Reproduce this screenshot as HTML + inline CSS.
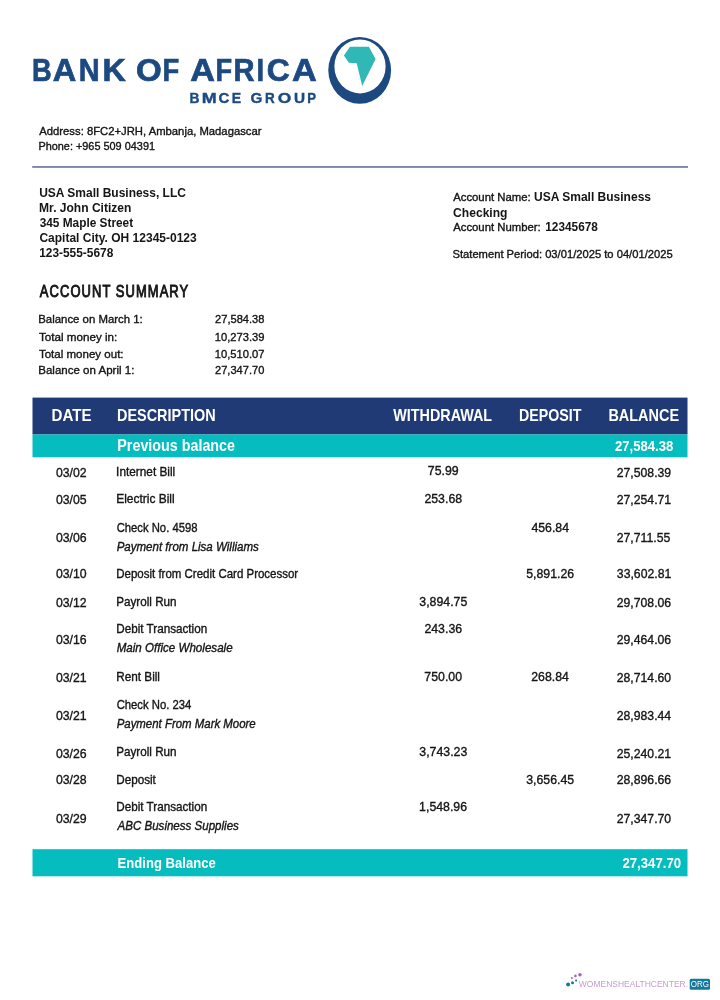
<!DOCTYPE html>
<html><head><meta charset="utf-8"><title>Bank of Africa Statement</title>
<style>
html,body{margin:0;padding:0;background:#fff;}
body{width:720px;height:1000px;overflow:hidden;position:relative;font-family:"Liberation Sans",sans-serif;}
svg{position:absolute;left:0;top:0;display:block;}
svg text{font-family:"Liberation Sans",sans-serif;}
</style></head>
<body>
<svg width="720" height="1000" viewBox="0 0 720 1000">
<rect x="0" y="0" width="720" height="1000" fill="#ffffff"/>
<!-- logo -->
<ellipse cx="359.7" cy="70.3" rx="31.4" ry="33.4" fill="#1c4a80"/>
<ellipse cx="360" cy="66.4" rx="25.6" ry="27" fill="#ffffff"/>
<polygon points="350,46.7 368.9,46.7 375.6,58.9 362.2,86.1 356.7,63.3 348.9,62.8 343.9,55.6" fill="#2fb8b5"/>
<!-- rule -->
<rect x="32.2" y="166.1" width="655.8" height="1.7" fill="#6b7a9a"/>
<!-- table bands -->
<rect x="32.5" y="397.6" width="655" height="36.9" fill="#1f3a75"/>
<rect x="32.5" y="434.5" width="655" height="22.8" fill="#05bcbe"/>
<rect x="32.5" y="849.2" width="655" height="27.1" fill="#05bcbe"/>
<!-- watermark -->
<circle cx="568.1" cy="984.4" r="2" fill="#157a94"/>
<circle cx="572.5" cy="982.7" r="1.5" fill="#157a94"/>
<circle cx="576.1" cy="980.5" r="1.1" fill="#157a94"/>
<circle cx="571.9" cy="978" r="1" fill="#a865bd"/>
<circle cx="575.4" cy="975.9" r="1.3" fill="#a865bd"/>
<circle cx="580" cy="974.8" r="1.8" fill="#a865bd"/>
<rect x="689.7" y="978.8" width="20.3" height="10.9" rx="1.5" fill="#16789a"/>
<defs><filter id="sf" x="-5%" y="-5%" width="110%" height="110%"><feGaussianBlur stdDeviation="0.3"/></filter></defs>
<g filter="url(#sf)">
<text x="32.01" y="80.90" font-size="30.8" font-weight="bold" font-style="normal" fill="#1c4a80" textLength="19.65" lengthAdjust="spacingAndGlyphs"  stroke="#1c4a80" stroke-width="0.7">B</text>
<text x="52.84" y="80.90" font-size="30.8" font-weight="bold" font-style="normal" fill="#1c4a80" textLength="23.50" lengthAdjust="spacingAndGlyphs"  stroke="#1c4a80" stroke-width="0.7">A</text>
<text x="78.70" y="80.90" font-size="30.8" font-weight="bold" font-style="normal" fill="#1c4a80" textLength="20.90" lengthAdjust="spacingAndGlyphs"  stroke="#1c4a80" stroke-width="0.7">N</text>
<text x="102.47" y="80.90" font-size="30.8" font-weight="bold" font-style="normal" fill="#1c4a80" textLength="23.29" lengthAdjust="spacingAndGlyphs"  stroke="#1c4a80" stroke-width="0.7">K</text>
<text x="135.93" y="80.90" font-size="30.8" font-weight="bold" font-style="normal" fill="#1c4a80" textLength="25.74" lengthAdjust="spacingAndGlyphs"  stroke="#1c4a80" stroke-width="0.7">O</text>
<text x="162.50" y="80.90" font-size="30.8" font-weight="bold" font-style="normal" fill="#1c4a80" textLength="16.73" lengthAdjust="spacingAndGlyphs"  stroke="#1c4a80" stroke-width="0.7">F</text>
<text x="190.30" y="80.90" font-size="30.8" font-weight="bold" font-style="normal" fill="#1c4a80" textLength="24.68" lengthAdjust="spacingAndGlyphs"  stroke="#1c4a80" stroke-width="0.7">A</text>
<text x="215.41" y="80.90" font-size="30.8" font-weight="bold" font-style="normal" fill="#1c4a80" textLength="16.61" lengthAdjust="spacingAndGlyphs"  stroke="#1c4a80" stroke-width="0.7">F</text>
<text x="233.59" y="80.90" font-size="30.8" font-weight="bold" font-style="normal" fill="#1c4a80" textLength="21.01" lengthAdjust="spacingAndGlyphs"  stroke="#1c4a80" stroke-width="0.7">R</text>
<text x="256.60" y="80.90" font-size="30.8" font-weight="bold" font-style="normal" fill="#1c4a80" textLength="7.60" lengthAdjust="spacingAndGlyphs"  stroke="#1c4a80" stroke-width="0.7">I</text>
<text x="266.87" y="80.90" font-size="30.8" font-weight="bold" font-style="normal" fill="#1c4a80" textLength="23.04" lengthAdjust="spacingAndGlyphs"  stroke="#1c4a80" stroke-width="0.7">C</text>
<text x="291.99" y="80.90" font-size="30.8" font-weight="bold" font-style="normal" fill="#1c4a80" textLength="24.79" lengthAdjust="spacingAndGlyphs"  stroke="#1c4a80" stroke-width="0.7">A</text>
<text x="189.57" y="103.35" font-size="15.2" font-weight="bold" font-style="normal" fill="#1c4a80" textLength="9.94" lengthAdjust="spacingAndGlyphs"  stroke="#1c4a80" stroke-width="0.4">B</text>
<text x="201.69" y="103.35" font-size="15.2" font-weight="bold" font-style="normal" fill="#1c4a80" textLength="14.93" lengthAdjust="spacingAndGlyphs"  stroke="#1c4a80" stroke-width="0.4">M</text>
<text x="218.60" y="103.35" font-size="15.2" font-weight="bold" font-style="normal" fill="#1c4a80" textLength="10.81" lengthAdjust="spacingAndGlyphs"  stroke="#1c4a80" stroke-width="0.4">C</text>
<text x="231.85" y="103.35" font-size="15.2" font-weight="bold" font-style="normal" fill="#1c4a80" textLength="9.41" lengthAdjust="spacingAndGlyphs"  stroke="#1c4a80" stroke-width="0.4">E</text>
<text x="250.59" y="103.35" font-size="15.2" font-weight="bold" font-style="normal" fill="#1c4a80" textLength="11.87" lengthAdjust="spacingAndGlyphs"  stroke="#1c4a80" stroke-width="0.4">G</text>
<text x="265.09" y="103.35" font-size="15.2" font-weight="bold" font-style="normal" fill="#1c4a80" textLength="9.71" lengthAdjust="spacingAndGlyphs"  stroke="#1c4a80" stroke-width="0.4">R</text>
<text x="277.80" y="103.35" font-size="15.2" font-weight="bold" font-style="normal" fill="#1c4a80" textLength="13.54" lengthAdjust="spacingAndGlyphs"  stroke="#1c4a80" stroke-width="0.4">O</text>
<text x="294.08" y="103.35" font-size="15.2" font-weight="bold" font-style="normal" fill="#1c4a80" textLength="11.07" lengthAdjust="spacingAndGlyphs"  stroke="#1c4a80" stroke-width="0.4">U</text>
<text x="307.32" y="103.35" font-size="15.2" font-weight="bold" font-style="normal" fill="#1c4a80" textLength="8.74" lengthAdjust="spacingAndGlyphs"  stroke="#1c4a80" stroke-width="0.4">P</text>
<text x="39.27" y="135.00" font-size="11.3" font-weight="normal" font-style="normal" fill="#141414" textLength="222.22" lengthAdjust="spacingAndGlyphs"  stroke="#141414" stroke-width="0.35">Address: 8FC2+JRH, Ambanja, Madagascar</text>
<text x="38.40" y="149.50" font-size="11.3" font-weight="normal" font-style="normal" fill="#141414" textLength="116.62" lengthAdjust="spacingAndGlyphs"  stroke="#141414" stroke-width="0.35">Phone: +965 509 04391</text>
<text x="39.18" y="197.30" font-size="12.2" font-weight="bold" font-style="normal" fill="#141414" textLength="146.74" lengthAdjust="spacingAndGlyphs" >USA Small Business, LLC</text>
<text x="39.09" y="211.90" font-size="12.2" font-weight="bold" font-style="normal" fill="#141414" textLength="92.33" lengthAdjust="spacingAndGlyphs" >Mr. John Citizen</text>
<text x="39.63" y="226.90" font-size="12.2" font-weight="bold" font-style="normal" fill="#141414" textLength="93.52" lengthAdjust="spacingAndGlyphs" >345 Maple Street</text>
<text x="39.42" y="241.80" font-size="12.2" font-weight="bold" font-style="normal" fill="#141414" textLength="157.32" lengthAdjust="spacingAndGlyphs" >Capital City. OH 12345-0123</text>
<text x="39.16" y="256.50" font-size="12.2" font-weight="bold" font-style="normal" fill="#141414" textLength="74.10" lengthAdjust="spacingAndGlyphs" >123-555-5678</text>
<text x="453.17" y="200.90" font-size="11.2" font-weight="normal" font-style="normal" fill="#141414" textLength="77.54" lengthAdjust="spacingAndGlyphs"  stroke="#141414" stroke-width="0.35">Account Name:</text>
<text x="533.98" y="201.00" font-size="12.3" font-weight="bold" font-style="normal" fill="#141414" textLength="117.02" lengthAdjust="spacingAndGlyphs" >USA Small Business</text>
<text x="453.12" y="216.80" font-size="12.3" font-weight="bold" font-style="normal" fill="#141414" textLength="54.38" lengthAdjust="spacingAndGlyphs" >Checking</text>
<text x="453.17" y="230.80" font-size="11.2" font-weight="normal" font-style="normal" fill="#141414" textLength="87.56" lengthAdjust="spacingAndGlyphs"  stroke="#141414" stroke-width="0.35">Account Number:</text>
<text x="545.26" y="230.80" font-size="12.3" font-weight="bold" font-style="normal" fill="#141414" textLength="52.62" lengthAdjust="spacingAndGlyphs" >12345678</text>
<text x="452.50" y="258.20" font-size="11.2" font-weight="normal" font-style="normal" fill="#141414" textLength="220.18" lengthAdjust="spacingAndGlyphs"  stroke="#141414" stroke-width="0.35">Statement Period: 03/01/2025 to 04/01/2025</text>
<text transform="translate(39.87,296.60) scale(0.8,1)" font-size="16.2" font-weight="normal" font-style="normal" fill="#141414" letter-spacing="1.336" stroke="#141414" stroke-width="0.9">ACCOUNT SUMMARY</text>
<text x="38.26" y="323.30" font-size="11.3" font-weight="normal" font-style="normal" fill="#141414" textLength="104.46" lengthAdjust="spacingAndGlyphs"  stroke="#141414" stroke-width="0.35">Balance on March 1:</text>
<text x="215.05" y="323.30" font-size="11.6" font-weight="normal" font-style="normal" fill="#141414" textLength="49.34" lengthAdjust="spacingAndGlyphs"  stroke="#141414" stroke-width="0.35">27,584.38</text>
<text x="38.94" y="340.80" font-size="11.3" font-weight="normal" font-style="normal" fill="#141414" textLength="78.32" lengthAdjust="spacingAndGlyphs"  stroke="#141414" stroke-width="0.35">Total money in:</text>
<text x="214.76" y="340.80" font-size="11.6" font-weight="normal" font-style="normal" fill="#141414" textLength="49.66" lengthAdjust="spacingAndGlyphs"  stroke="#141414" stroke-width="0.35">10,273.39</text>
<text x="38.94" y="357.50" font-size="11.3" font-weight="normal" font-style="normal" fill="#141414" textLength="84.60" lengthAdjust="spacingAndGlyphs"  stroke="#141414" stroke-width="0.35">Total money out:</text>
<text x="214.76" y="357.50" font-size="11.6" font-weight="normal" font-style="normal" fill="#141414" textLength="49.71" lengthAdjust="spacingAndGlyphs"  stroke="#141414" stroke-width="0.35">10,510.07</text>
<text x="38.25" y="374.40" font-size="11.3" font-weight="normal" font-style="normal" fill="#141414" textLength="96.08" lengthAdjust="spacingAndGlyphs"  stroke="#141414" stroke-width="0.35">Balance on April 1:</text>
<text x="215.05" y="374.40" font-size="11.6" font-weight="normal" font-style="normal" fill="#141414" textLength="49.28" lengthAdjust="spacingAndGlyphs"  stroke="#141414" stroke-width="0.35">27,347.70</text>
<text x="51.58" y="421.30" font-size="16.4" font-weight="bold" font-style="normal" fill="#ffffff" textLength="40.03" lengthAdjust="spacingAndGlyphs" >DATE</text>
<text x="117.03" y="421.30" font-size="16.4" font-weight="bold" font-style="normal" fill="#ffffff" textLength="98.64" lengthAdjust="spacingAndGlyphs" >DESCRIPTION</text>
<text x="393.26" y="421.30" font-size="16.4" font-weight="bold" font-style="normal" fill="#ffffff" textLength="98.87" lengthAdjust="spacingAndGlyphs" >WITHDRAWAL</text>
<text x="519.04" y="421.30" font-size="16.4" font-weight="bold" font-style="normal" fill="#ffffff" textLength="62.40" lengthAdjust="spacingAndGlyphs" >DEPOSIT</text>
<text x="608.42" y="421.30" font-size="16.4" font-weight="bold" font-style="normal" fill="#ffffff" textLength="70.64" lengthAdjust="spacingAndGlyphs" >BALANCE</text>
<text x="117.33" y="451.20" font-size="15.6" font-weight="bold" font-style="normal" fill="#ffffff" textLength="117.65" lengthAdjust="spacingAndGlyphs" >Previous balance</text>
<text x="614.94" y="451.20" font-size="14.2" font-weight="bold" font-style="normal" fill="#ffffff" textLength="58.37" lengthAdjust="spacingAndGlyphs" >27,584.38</text>
<text x="117.62" y="867.80" font-size="14.3" font-weight="bold" font-style="normal" fill="#ffffff" textLength="98.13" lengthAdjust="spacingAndGlyphs" >Ending Balance</text>
<text x="622.44" y="867.70" font-size="14.2" font-weight="bold" font-style="normal" fill="#ffffff" textLength="58.71" lengthAdjust="spacingAndGlyphs" >27,347.70</text>
<text x="55.91" y="476.80" font-size="13.3" font-weight="normal" font-style="normal" fill="#141414" textLength="30.70" lengthAdjust="spacingAndGlyphs"  stroke="#141414" stroke-width="0.35">03/02</text>
<text x="116.11" y="475.60" font-size="12.1" font-weight="normal" font-style="normal" fill="#141414" textLength="59.09" lengthAdjust="spacingAndGlyphs"  stroke="#141414" stroke-width="0.35">Internet Bill</text>
<text x="427.84" y="475.40" font-size="12.8" font-weight="normal" font-style="normal" fill="#141414" textLength="30.83" lengthAdjust="spacingAndGlyphs"  stroke="#141414" stroke-width="0.35">75.99</text>
<text x="616.69" y="476.80" font-size="13.1" font-weight="normal" font-style="normal" fill="#141414" textLength="54.48" lengthAdjust="spacingAndGlyphs"  stroke="#141414" stroke-width="0.35">27,508.39</text>
<text x="55.91" y="504.00" font-size="13.3" font-weight="normal" font-style="normal" fill="#141414" textLength="30.70" lengthAdjust="spacingAndGlyphs"  stroke="#141414" stroke-width="0.35">03/05</text>
<text x="116.21" y="503.00" font-size="12.1" font-weight="normal" font-style="normal" fill="#141414" textLength="58.49" lengthAdjust="spacingAndGlyphs"  stroke="#141414" stroke-width="0.35">Electric Bill</text>
<text x="424.42" y="502.80" font-size="12.8" font-weight="normal" font-style="normal" fill="#141414" textLength="37.68" lengthAdjust="spacingAndGlyphs"  stroke="#141414" stroke-width="0.35">253.68</text>
<text x="616.69" y="504.00" font-size="13.1" font-weight="normal" font-style="normal" fill="#141414" textLength="54.48" lengthAdjust="spacingAndGlyphs"  stroke="#141414" stroke-width="0.35">27,254.71</text>
<text x="55.91" y="542.40" font-size="13.3" font-weight="normal" font-style="normal" fill="#141414" textLength="30.70" lengthAdjust="spacingAndGlyphs"  stroke="#141414" stroke-width="0.35">03/06</text>
<text x="116.64" y="531.70" font-size="12.1" font-weight="normal" font-style="normal" fill="#141414" textLength="80.86" lengthAdjust="spacingAndGlyphs"  stroke="#141414" stroke-width="0.35">Check No. 4598</text>
<text x="116.65" y="550.80" font-size="12.1" font-weight="normal" font-style="italic" fill="#141414" textLength="142.18" lengthAdjust="spacingAndGlyphs"  stroke="#141414" stroke-width="0.35">Payment from Lisa Williams</text>
<text x="531.40" y="531.80" font-size="12.8" font-weight="normal" font-style="normal" fill="#141414" textLength="37.68" lengthAdjust="spacingAndGlyphs"  stroke="#141414" stroke-width="0.35">456.84</text>
<text x="616.69" y="542.40" font-size="13.1" font-weight="normal" font-style="normal" fill="#141414" textLength="53.57" lengthAdjust="spacingAndGlyphs"  stroke="#141414" stroke-width="0.35">27,711.55</text>
<text x="55.91" y="578.40" font-size="13.3" font-weight="normal" font-style="normal" fill="#141414" textLength="30.70" lengthAdjust="spacingAndGlyphs"  stroke="#141414" stroke-width="0.35">03/10</text>
<text x="116.25" y="578.00" font-size="12.1" font-weight="normal" font-style="normal" fill="#141414" textLength="181.94" lengthAdjust="spacingAndGlyphs"  stroke="#141414" stroke-width="0.35">Deposit from Credit Card Processor</text>
<text x="526.24" y="578.10" font-size="12.8" font-weight="normal" font-style="normal" fill="#141414" textLength="47.96" lengthAdjust="spacingAndGlyphs"  stroke="#141414" stroke-width="0.35">5,891.26</text>
<text x="616.84" y="578.40" font-size="13.1" font-weight="normal" font-style="normal" fill="#141414" textLength="54.48" lengthAdjust="spacingAndGlyphs"  stroke="#141414" stroke-width="0.35">33,602.81</text>
<text x="55.91" y="606.90" font-size="13.3" font-weight="normal" font-style="normal" fill="#141414" textLength="30.70" lengthAdjust="spacingAndGlyphs"  stroke="#141414" stroke-width="0.35">03/12</text>
<text x="116.24" y="605.80" font-size="12.1" font-weight="normal" font-style="normal" fill="#141414" textLength="60.34" lengthAdjust="spacingAndGlyphs"  stroke="#141414" stroke-width="0.35">Payroll Run</text>
<text x="419.34" y="605.60" font-size="12.8" font-weight="normal" font-style="normal" fill="#141414" textLength="47.96" lengthAdjust="spacingAndGlyphs"  stroke="#141414" stroke-width="0.35">3,894.75</text>
<text x="616.69" y="606.90" font-size="13.1" font-weight="normal" font-style="normal" fill="#141414" textLength="54.48" lengthAdjust="spacingAndGlyphs"  stroke="#141414" stroke-width="0.35">29,708.06</text>
<text x="55.91" y="644.30" font-size="13.3" font-weight="normal" font-style="normal" fill="#141414" textLength="30.70" lengthAdjust="spacingAndGlyphs"  stroke="#141414" stroke-width="0.35">03/16</text>
<text x="116.24" y="632.80" font-size="12.1" font-weight="normal" font-style="normal" fill="#141414" textLength="90.95" lengthAdjust="spacingAndGlyphs"  stroke="#141414" stroke-width="0.35">Debit Transaction</text>
<text x="116.65" y="652.20" font-size="12.1" font-weight="normal" font-style="italic" fill="#141414" textLength="115.97" lengthAdjust="spacingAndGlyphs"  stroke="#141414" stroke-width="0.35">Main Office Wholesale</text>
<text x="424.42" y="632.60" font-size="12.8" font-weight="normal" font-style="normal" fill="#141414" textLength="37.68" lengthAdjust="spacingAndGlyphs"  stroke="#141414" stroke-width="0.35">243.36</text>
<text x="616.69" y="644.30" font-size="13.1" font-weight="normal" font-style="normal" fill="#141414" textLength="54.48" lengthAdjust="spacingAndGlyphs"  stroke="#141414" stroke-width="0.35">29,464.06</text>
<text x="55.91" y="681.60" font-size="13.3" font-weight="normal" font-style="normal" fill="#141414" textLength="30.70" lengthAdjust="spacingAndGlyphs"  stroke="#141414" stroke-width="0.35">03/21</text>
<text x="116.23" y="681.00" font-size="12.1" font-weight="normal" font-style="normal" fill="#141414" textLength="43.75" lengthAdjust="spacingAndGlyphs"  stroke="#141414" stroke-width="0.35">Rent Bill</text>
<text x="424.37" y="680.80" font-size="12.8" font-weight="normal" font-style="normal" fill="#141414" textLength="37.68" lengthAdjust="spacingAndGlyphs"  stroke="#141414" stroke-width="0.35">750.00</text>
<text x="531.23" y="681.10" font-size="12.8" font-weight="normal" font-style="normal" fill="#141414" textLength="37.68" lengthAdjust="spacingAndGlyphs"  stroke="#141414" stroke-width="0.35">268.84</text>
<text x="616.69" y="681.60" font-size="13.1" font-weight="normal" font-style="normal" fill="#141414" textLength="54.48" lengthAdjust="spacingAndGlyphs"  stroke="#141414" stroke-width="0.35">28,714.60</text>
<text x="55.91" y="720.00" font-size="13.3" font-weight="normal" font-style="normal" fill="#141414" textLength="30.70" lengthAdjust="spacingAndGlyphs"  stroke="#141414" stroke-width="0.35">03/21</text>
<text x="116.63" y="708.60" font-size="12.1" font-weight="normal" font-style="normal" fill="#141414" textLength="74.78" lengthAdjust="spacingAndGlyphs"  stroke="#141414" stroke-width="0.35">Check No. 234</text>
<text x="116.66" y="728.00" font-size="12.1" font-weight="normal" font-style="italic" fill="#141414" textLength="139.07" lengthAdjust="spacingAndGlyphs"  stroke="#141414" stroke-width="0.35">Payment From Mark Moore</text>
<text x="616.69" y="720.00" font-size="13.1" font-weight="normal" font-style="normal" fill="#141414" textLength="54.48" lengthAdjust="spacingAndGlyphs"  stroke="#141414" stroke-width="0.35">28,983.44</text>
<text x="55.91" y="757.90" font-size="13.3" font-weight="normal" font-style="normal" fill="#141414" textLength="30.70" lengthAdjust="spacingAndGlyphs"  stroke="#141414" stroke-width="0.35">03/26</text>
<text x="116.24" y="755.80" font-size="12.1" font-weight="normal" font-style="normal" fill="#141414" textLength="60.34" lengthAdjust="spacingAndGlyphs"  stroke="#141414" stroke-width="0.35">Payroll Run</text>
<text x="419.35" y="755.60" font-size="12.8" font-weight="normal" font-style="normal" fill="#141414" textLength="47.96" lengthAdjust="spacingAndGlyphs"  stroke="#141414" stroke-width="0.35">3,743.23</text>
<text x="616.69" y="757.90" font-size="13.1" font-weight="normal" font-style="normal" fill="#141414" textLength="54.48" lengthAdjust="spacingAndGlyphs"  stroke="#141414" stroke-width="0.35">25,240.21</text>
<text x="55.91" y="784.40" font-size="13.3" font-weight="normal" font-style="normal" fill="#141414" textLength="30.70" lengthAdjust="spacingAndGlyphs"  stroke="#141414" stroke-width="0.35">03/28</text>
<text x="116.23" y="783.60" font-size="12.1" font-weight="normal" font-style="normal" fill="#141414" textLength="39.66" lengthAdjust="spacingAndGlyphs"  stroke="#141414" stroke-width="0.35">Deposit</text>
<text x="526.24" y="783.70" font-size="12.8" font-weight="normal" font-style="normal" fill="#141414" textLength="47.96" lengthAdjust="spacingAndGlyphs"  stroke="#141414" stroke-width="0.35">3,656.45</text>
<text x="616.69" y="784.40" font-size="13.1" font-weight="normal" font-style="normal" fill="#141414" textLength="54.48" lengthAdjust="spacingAndGlyphs"  stroke="#141414" stroke-width="0.35">28,896.66</text>
<text x="55.91" y="822.70" font-size="13.3" font-weight="normal" font-style="normal" fill="#141414" textLength="30.70" lengthAdjust="spacingAndGlyphs"  stroke="#141414" stroke-width="0.35">03/29</text>
<text x="116.24" y="811.40" font-size="12.1" font-weight="normal" font-style="normal" fill="#141414" textLength="90.95" lengthAdjust="spacingAndGlyphs"  stroke="#141414" stroke-width="0.35">Debit Transaction</text>
<text x="117.55" y="830.00" font-size="12.1" font-weight="normal" font-style="italic" fill="#141414" textLength="121.29" lengthAdjust="spacingAndGlyphs"  stroke="#141414" stroke-width="0.35">ABC Business Supplies</text>
<text x="419.12" y="811.20" font-size="12.8" font-weight="normal" font-style="normal" fill="#141414" textLength="47.96" lengthAdjust="spacingAndGlyphs"  stroke="#141414" stroke-width="0.35">1,548.96</text>
<text x="616.69" y="822.70" font-size="13.1" font-weight="normal" font-style="normal" fill="#141414" textLength="54.48" lengthAdjust="spacingAndGlyphs"  stroke="#141414" stroke-width="0.35">27,347.70</text>
<text x="578.86" y="987.40" font-size="8.2" font-weight="normal" font-style="normal" fill="#c79ad6" textLength="109.22" lengthAdjust="spacingAndGlyphs" stroke="none">WOMENSHEALTHCENTER.</text>
<text x="690.82" y="987.40" font-size="8.6" font-weight="normal" font-style="normal" fill="#ffffff" textLength="18.18" lengthAdjust="spacingAndGlyphs" stroke="none">ORG</text>
</g>
</svg>
</body></html>
